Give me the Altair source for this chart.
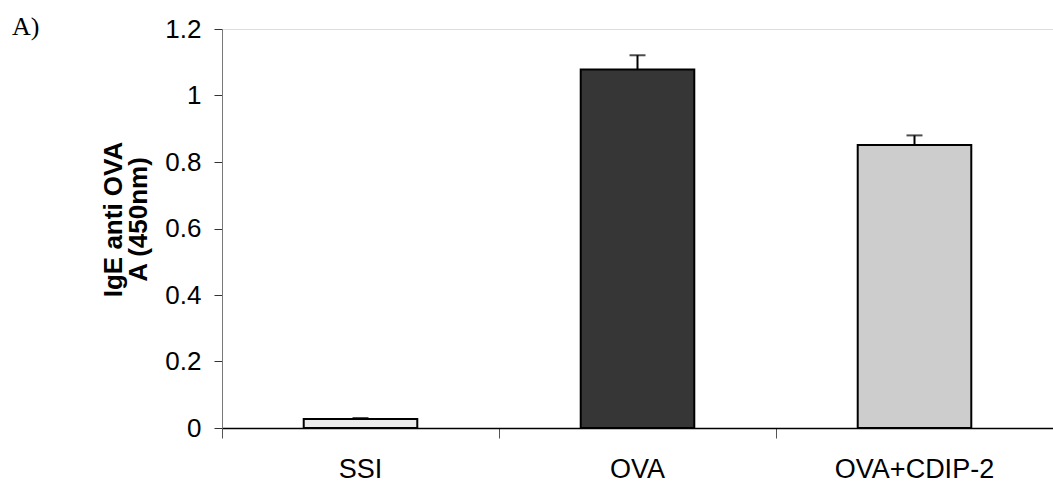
import altair as alt
import pandas as pd

categories = ["SSI", "OVA", "OVA+CDIP-2"]
values = [0.027, 1.078, 0.851]
errors = [0.003, 0.043, 0.029]
fills = ["#ebebeb", "#363636", "#cdcdcd"]

df = pd.DataFrame({"cat": categories, "val": values, "err": errors, "fill": fills})
df["top"] = df["val"] + df["err"]

xscale = alt.Scale(domain=categories, paddingInner=0, paddingOuter=0)
yscale = alt.Scale(domain=[0, 1.2], nice=False)

base = alt.Chart(df)

bars = base.mark_bar(width=alt.RelativeBandSize(0.41), stroke="black", strokeWidth=2).encode(
    x=alt.X("cat:N", scale=xscale, sort=categories,
            axis=alt.Axis(title=None, labels=False, bandPosition=0, tickSize=10,
                          tickColor="#555", domainColor="black", domainWidth=1.5, grid=False)),
    y=alt.Y("val:Q", scale=yscale,
            axis=alt.Axis(title=["IgE anti OVA", "A (450nm)"], values=[0, 0.2, 0.4, 0.6, 0.8, 1, 1.2],
                          format="~g", labelFontSize=26, labelFont="Liberation Sans", labelColor="black",
                          tickSize=8, tickColor="#333", domainColor="#777", labelPadding=13,
                          titleFontSize=26, titleFont="Liberation Sans", titleFontWeight="bold",
                          titleColor="black", titlePadding=13, titleLineHeight=25,
                          titleY=190, grid=False)),
    fill=alt.Fill("fill:N", scale=None),
)

err_rule = base.mark_rule(color="black", strokeWidth=2).encode(
    x=alt.X("cat:N", scale=xscale, sort=categories),
    y="val:Q",
    y2="top:Q",
)
err_cap = base.mark_tick(color="black", thickness=2, size=16, orient="horizontal").encode(
    x=alt.X("cat:N", scale=xscale, sort=categories),
    y="top:Q",
)

xlabels = base.mark_text(fontSize=27, font="Liberation Sans", color="black", baseline="alphabetic").encode(
    x=alt.X("cat:N", scale=xscale, sort=categories),
    y=alt.value(449),
    text="cat:N",
)

panel = pd.DataFrame({"t": ["A)"]})
panel_label = alt.Chart(panel).mark_text(fontSize=26, font="Liberation Serif", color="black",
                                         align="left", baseline="alphabetic").encode(
    x=alt.value(-210), y=alt.value(6), text="t:N"
)

chart = alt.layer(bars, err_rule, err_cap, xlabels, panel_label).properties(
    width=831, height=399,
    autosize=alt.AutoSizeParams(type="none"),
    padding={"left": 222, "top": 29, "right": 0, "bottom": 58},
).configure_view(stroke=None).configure(background="white")

chart.save("out.html", embed_options={"renderer": "svg", "actions": False})
